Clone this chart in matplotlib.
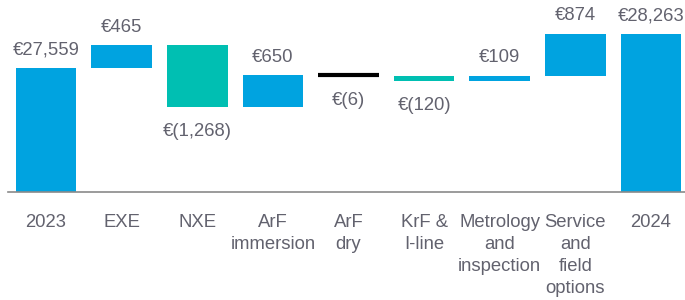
import matplotlib
matplotlib.use("Agg")
import matplotlib.pyplot as plt

categories = ["2023", "EXE", "NXE", "ArF\nimmersion", "ArF\ndry", "KrF &\nI-line",
              "Metrology\nand\ninspection", "Service\nand\nfield\noptions", "2024"]
values = [27559, 465, -1268, 650, -6, -120, 109, 874, 28263]
labels = ["€27,559", "€465", "€(1,268)", "€650", "€(6)", "€(120)", "€109", "€874", "€28,263"]
kinds = ["total", "delta", "delta", "delta", "delta", "delta", "delta", "delta", "total"]

BLUE = "#00A3E0"
TEAL = "#00BFB2"
BLACK = "#000000"
TEXT = "#62626e"
AXIS_MIN = 24990
FS = 13.3
FAM = ['Liberation Sans', 'DejaVu Sans']

fig = plt.figure(figsize=(6.85, 3.0), dpi=100)
ax = fig.add_axes([0.012, 0.36, 0.988, 0.64])
plt.rcParams['font.family'] = FAM

running = 0
for i, (v, k, lab) in enumerate(zip(values, kinds, labels)):
    if k == "total":
        bottom, top = AXIS_MIN, v
        running = v
        color = BLUE
    else:
        start = running
        end = running + v
        bottom, top = min(start, end), max(start, end)
        running = end
        if abs(v) < 20:
            color = BLACK
        elif v < 0:
            color = TEAL
        else:
            color = BLUE
    h = top - bottom
    if h < 60:
        mid = (top + bottom) / 2
        if abs(v) >= 20:
            bottom, h = mid - 30, 60
        else:
            h = 0
            ax.plot([i - 0.4, i + 0.4], [mid, mid], color=BLACK, lw=3, solid_capstyle="butt")
    if h > 0:
        ax.bar(i, h, bottom=bottom, width=0.8, color=color, edgecolor="none")
    if v >= 0:
        ax.text(i, top + 200, lab, ha="center", va="bottom", fontsize=FS, color=TEXT, family=FAM)
    else:
        ax.text(i, bottom - 330, lab, ha="center", va="top", fontsize=FS, color=TEXT, family=FAM)

ax.set_xlim(-0.5, 8.45)
ax.set_ylim(AXIS_MIN, AXIS_MIN + 192 * 20.7)
ax.set_xticks(range(len(categories)))
ax.set_xticklabels(categories, fontsize=FS, color=TEXT, linespacing=1.38, family=FAM)
ax.tick_params(axis="x", length=0, pad=16)
ax.set_yticks([])
for s in ["top", "right", "left"]:
    ax.spines[s].set_visible(False)
ax.spines["bottom"].set_color("#8a8a8a")
ax.spines["bottom"].set_linewidth(1.2)

fig.savefig("out.png", dpi=100)
